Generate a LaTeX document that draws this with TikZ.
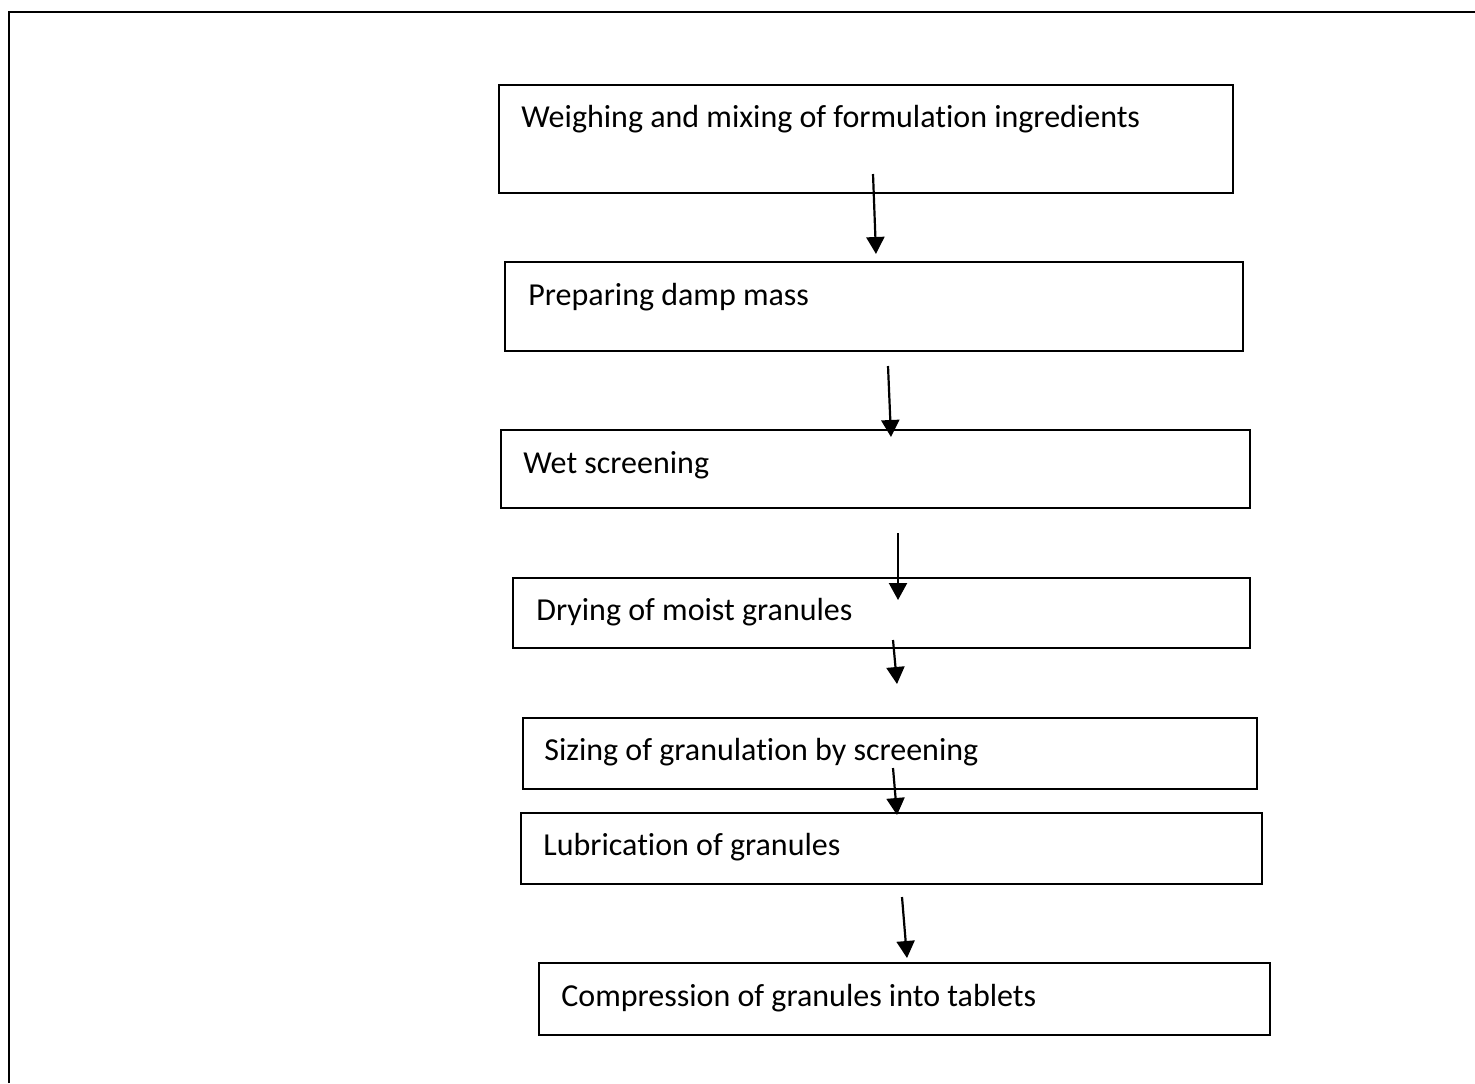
\documentclass[tikz,border=0pt]{standalone}
\usepackage{fontspec}
\setmainfont[Ligatures=NoCommon]{Carlito}
\usetikzlibrary{arrows.meta}
\begin{document}
\begin{tikzpicture}[x=0.5pt,y=-0.5pt,
  stepbox/.style={draw, line width=1pt},
  steptext/.style={anchor=base west, inner sep=0pt, font=\fontsize{16pt}{19pt}\selectfont},
  flowarrow/.style={line width=1.1pt, -{Triangle[width=9pt,length=8.5pt]}},
  frame/.style={line width=1.3pt}]
\useasboundingbox (0,0) rectangle (1475,1083);
% outer frame (open on right and bottom)
\draw[frame] (9,1083) -- (9,12) -- (1475,12);
% boxes
\draw[stepbox] (499,85) rectangle (1233,193);
\draw[stepbox] (505,262) rectangle (1243,351);
\draw[stepbox] (501,430) rectangle (1250,508);
\draw[stepbox] (513,578) rectangle (1250,648);
\draw[stepbox] (523,718) rectangle (1257,789);
\draw[stepbox] (521,813) rectangle (1262,884);
\draw[stepbox] (539,963) rectangle (1270,1035);
% texts
\node[steptext] (t1) at (521,127) {Weighing and mixing of formulation ingredients};
\node[steptext] (t2) at (528,305) {Preparing damp mass};
\node[steptext] (t3) at (523,473) {Wet screening};
\node[steptext] (t4) at (536,620) {Drying of moist granules};
\node[steptext] (t5) at (544,760) {Sizing of granulation by screening};
\node[steptext] (t6) at (543,855) {Lubrication of granules};
\node[steptext] (t7) at (561,1006) {Compression of granules into tablets};
% arrow endpoints
\coordinate (a1s) at (873,174); \coordinate (a1e) at (876,254);
\coordinate (a2s) at (888,366); \coordinate (a2e) at (891,437);
\coordinate (a3s) at (898,533); \coordinate (a3e) at (898,600);
\coordinate (a4s) at (893,640); \coordinate (a4e) at (897,684);
\coordinate (a5s) at (893,768); \coordinate (a5e) at (897,815);
\coordinate (a6s) at (902,897); \coordinate (a6e) at (907,958);
\draw[flowarrow] (a1s) -- (a1e);
\draw[flowarrow] (a2s) -- (a2e);
\draw[flowarrow] (a3s) -- (a3e);
\draw[flowarrow] (a4s) -- (a4e);
\draw[flowarrow] (a5s) -- (a5e);
\draw[flowarrow] (a6s) -- (a6e);
\end{tikzpicture}
\end{document}
